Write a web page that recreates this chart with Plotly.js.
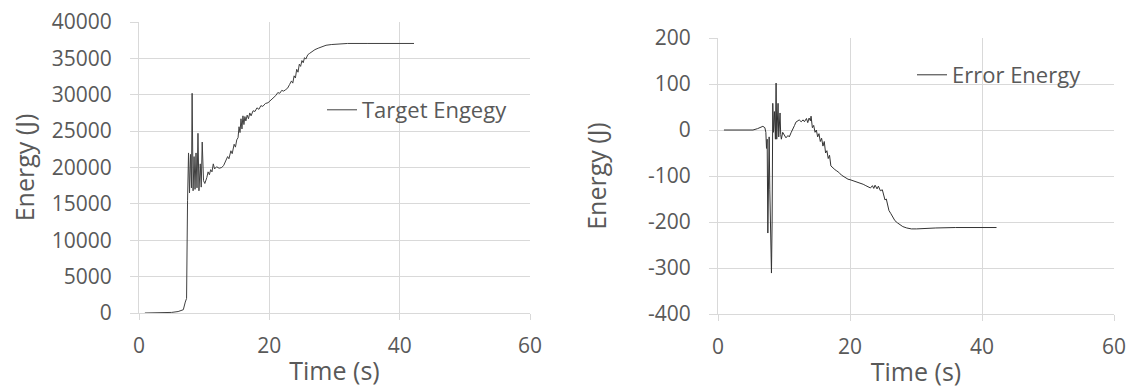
<!DOCTYPE html>
<html>
<head>
<meta charset="utf-8">
<script src="https://cdn.plot.ly/plotly-3.0.1.min.js"></script>
<style>html,body{margin:0;padding:0;background:#fff;}#chart{width:1131px;height:390px;}</style>
</head>
<body>
<div id="chart"></div>
<script>
// ---- data ----
var targetTime = [0.9,2,3,4,5,6,6.8,7.1,7.3,7.45,7.6,7.75,7.9,8.05,8.15,8.3,8.45,8.6,8.75,8.9,9.05,9.2,9.4,9.55,9.7,9.9,10.1,10.4,10.6,10.8,11.0,11.2,11.4,11.6,11.9,12.3,12.7,13.0,13.3,13.6,13.8,14.1,14.3,14.6,14.8,15.0,15.2,15.35,15.5,15.65,15.8,15.95,16.1,16.25,16.4,16.6,16.8,17.0,17.2,17.5,17.8,18.1,18.4,18.7,19.0,19.4,19.8,20.2,20.6,21.0,21.3,21.6,21.9,22.2,22.5,22.8,23.1,23.4,23.6,23.8,24.0,24.2,24.4,24.6,24.8,25.0,25.2,25.4,25.6,25.9,26.2,26.6,27.0,27.5,28.0,28.7,29.5,30.5,32,35,42.2];
var targetEnergy = [0,0,10,30,80,200,450,1500,2000,15500,22000,16500,21800,17200,30200,16800,21500,17000,22000,17200,24700,16800,20500,17300,23500,18200,17800,18600,19400,19000,19700,19400,20500,19800,20100,19900,20000,20300,20800,21500,21200,22300,21900,23200,22800,23800,24100,25600,24800,26700,25300,27100,25900,27000,26400,27200,26700,27500,27100,27800,27700,28200,28000,28500,28400,28800,28900,29200,29500,29900,30300,30200,30600,30500,30700,30900,31400,31900,31600,32600,32300,33500,33100,34200,33900,34700,34400,35100,34900,35500,35700,36000,36200,36400,36600,36800,36900,37000,37050,37050,37050];

var errorTime = [0.9,3,5.3,6,6.8,7.1,7.25,7.35,7.45,7.55,7.65,7.75,7.85,8.0,8.1,8.2,8.3,8.4,8.55,8.7,8.8,8.9,9.0,9.1,9.2,9.3,9.4,9.5,9.6,9.8,10.0,10.3,10.6,10.8,11.1,11.3,11.6,11.8,12.1,12.3,12.6,12.9,13.1,13.4,13.6,13.8,14.0,14.1,14.3,14.5,14.7,14.9,15.1,15.3,15.5,15.7,15.9,16.1,16.3,16.5,16.7,16.9,17.1,17.4,17.7,18.0,18.3,18.7,19.0,19.4,19.7,20.0,20.4,20.8,21.2,21.6,22.0,22.4,22.8,23.1,23.4,23.6,23.8,24.1,24.3,24.6,24.9,25.1,25.3,25.5,25.7,25.9,26.2,26.5,26.8,27.2,27.6,28.0,28.6,29.3,30.1,31,33,36,42.2];
var errorEnergy = [0,0,0,3,8,5,-5,-40,-20,-224,-60,-15,-130,-230,-311,-200,58,-5,40,-20,102,-20,30,58,-15,20,37,-10,-20,-5,-10,-17,-12,-15,-5,0,10,17,20,22,18,22,18,25,16,26,20,30,5,10,-5,0,-15,-8,-25,-18,-35,-25,-50,-45,-62,-55,-78,-83,-86,-89,-92,-98,-101,-104,-107,-108,-110,-112,-113,-116,-118,-121,-124,-126,-121,-127,-120,-128,-122,-132,-130,-140,-152,-150,-165,-175,-182,-190,-197,-202,-207,-210,-213,-215,-215,-214,-213,-212,-212];

var xTicks = [0, 20, 40, 60];
var xTickLabels = ['0', '20', '40', '60'];
var leftYTicks = [0,5000,10000,15000,20000,25000,30000,35000,40000];
var leftYTickLabels = ['0','5000','10000','15000','20000','25000','30000','35000','40000'];
var rightYTicks = [-400,-300,-200,-100,0,100,200];
var rightYTickLabels = ['-400','-300','-200','-100','0','100','200'];
var leftName = 'Target Engegy';
var rightName = 'Error Energy';
var xTitle = 'Time (s)';
var yTitle = 'Energy (J)';

// ---- styling ----
var textColor = '#595959';
var gridColor = '#d9d9d9';
var fontFamily = '"Open Sans", "Noto Sans", sans-serif';

var traces = [
  {x: targetTime, y: targetEnergy, type: 'scatter', mode: 'lines', name: leftName,
   xaxis: 'x', yaxis: 'y', legend: 'legend', line: {color: '#404040', width: 1}},
  {x: errorTime, y: errorEnergy, type: 'scatter', mode: 'lines', name: rightName,
   xaxis: 'x2', yaxis: 'y2', legend: 'legend2', line: {color: '#333333', width: 1}}
];

function xAxis(domain, anchor) {
  return {
    domain: domain, anchor: anchor, range: [0, 60],
    tickmode: 'array', tickvals: xTicks, ticktext: xTickLabels,
    showgrid: true, gridcolor: gridColor, gridwidth: 1,
    showline: true, linecolor: gridColor, linewidth: 1,
    ticks: 'outside', ticklen: 6, tickcolor: gridColor,
    zeroline: false, ticklabelstandoff: 8,
    tickfont: {family: fontFamily, size: 21, color: textColor},
    title: {text: xTitle, standoff: 4, font: {family: fontFamily, size: 25, color: textColor}},
    fixedrange: true
  };
}
function yAxis(domain, anchor, range, ticks, labels, titleGap) {
  return {
    domain: domain, anchor: anchor, range: range,
    tickmode: 'array', tickvals: ticks, ticktext: labels,
    showgrid: true, gridcolor: gridColor, gridwidth: 1,
    showline: true, linecolor: gridColor, linewidth: 1,
    ticks: 'outside', ticklen: 8, tickcolor: gridColor,
    zeroline: false, ticklabelstandoff: 14,
    tickfont: {family: fontFamily, size: 21, color: textColor},
    title: {text: yTitle, standoff: titleGap, font: {family: fontFamily, size: 25, color: textColor}},
    fixedrange: true
  };
}

var layout = {
  width: 1131, height: 390,
  margin: {l: 0, r: 0, t: 0, b: 0},
  paper_bgcolor: '#ffffff', plot_bgcolor: '#ffffff',
  font: {family: fontFamily, color: textColor},
  xaxis: xAxis([139/1131, 530/1131], 'y'),
  yaxis: yAxis([1 - 313/390, 1 - 22/390], 'x', [0, 40000], leftYTicks, leftYTickLabels, 10),
  xaxis2: xAxis([718/1131, 1114/1131], 'y2'),
  yaxis2: yAxis([1 - 314/390, 1 - 38/390], 'x2', [-400, 200], rightYTicks, rightYTickLabels, 34),
  showlegend: true,
  legend: {x: 322/1131, xanchor: 'left', y: 1 - 110/390, yanchor: 'middle',
           bgcolor: 'rgba(0,0,0,0)', borderwidth: 0,
           font: {family: fontFamily, size: 22, color: textColor}},
  legend2: {x: 912/1131, xanchor: 'left', y: 1 - 75/390, yanchor: 'middle',
           bgcolor: 'rgba(0,0,0,0)', borderwidth: 0,
           font: {family: fontFamily, size: 22, color: textColor}}
};

Plotly.newPlot('chart', traces, layout, {displayModeBar: false, staticPlot: true});
</script>
</body>
</html>
